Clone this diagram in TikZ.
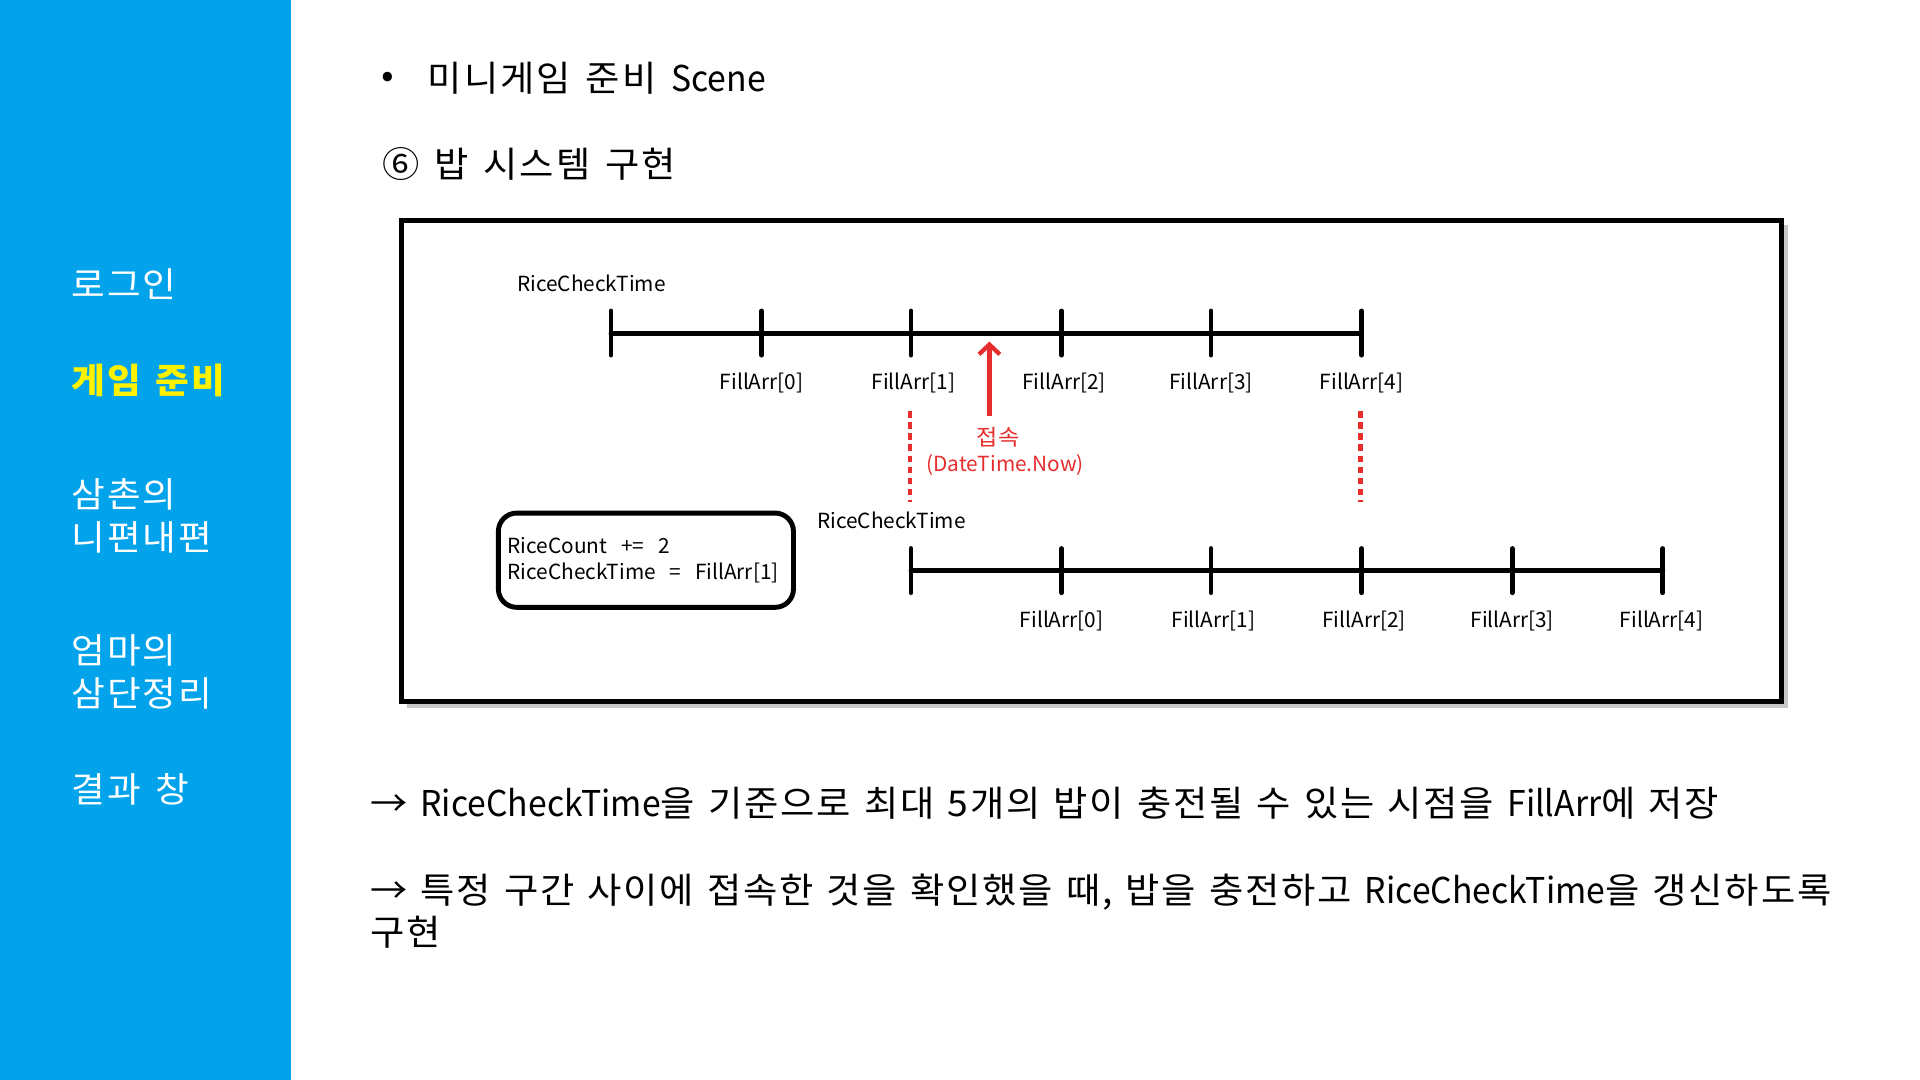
\documentclass[tikz,border=0pt]{standalone}
\usepackage{fontspec}
\setmainfont{Noto Sans CJK KR}
\newfontfamily\kr{Noto Sans CJK KR}[FakeStretch=1.05,LetterSpace=6,WordSpace=1.4]
\newfontfamily\krb{Noto Sans CJK KR}[FakeStretch=1.05,LetterSpace=5,WordSpace=1.3]
\newfontfamily\la{Noto Sans CJK KR}[FakeStretch=0.95]
\newcommand\lat[1]{{\la #1}}
\usetikzlibrary{arrows.meta}
\definecolor{side}{RGB}{2,163,235}
\definecolor{hl}{RGB}{255,242,0}
\definecolor{myred}{RGB}{232,45,45}
\tikzset{
  sidetxt/.style={anchor=west,text=white,font=\fontsize{28.5}{35}\selectfont\kr,align=left,inner sep=0pt},
  bigtxt/.style={anchor=west,font=\fontsize{29}{34}\selectfont\kr,align=left,inner sep=0pt},
  bottxt/.style={anchor=west,font=\fontsize{29}{34}\selectfont\krb,align=left,inner sep=0pt},
  lbl/.style={font=\fontsize{17}{22}\selectfont,inner sep=0pt},
  tl/.style={line width=4pt,line cap=round},
  redtxt/.style={lbl,text=myred},
  reddot/.style={myred,line width=3.5pt,dash pattern=on 5pt off 4pt},
}
\begin{document}
\begin{tikzpicture}[x=1pt,y=-1pt]
\useasboundingbox (0,0) rectangle (1568,882);
\fill[white] (0,0) rectangle (1568,882);
% sidebar
\fill[side] (0,0) rectangle (238,882);
\node[sidetxt] (s1) at (58,232) {로그인};
\node[sidetxt,text=hl,font=\fontsize{28.5}{35}\selectfont\kr\bfseries] (s2) at (58,311) {게임 준비};
\node[sidetxt] (s3) at (58,421) {삼촌의\\니편내편};
\node[sidetxt] (s4) at (58,549) {엄마의\\삼단정리};
\node[sidetxt] (s5) at (58,645) {결과 창};
% titles
\node[bigtxt] (bul) at (311,65) {•};
\node[bigtxt] (t1) at (349,64) {미니게임 준비 \lat{Scene}};
\node[bigtxt] (t2) at (312,134) {⑥ 밥 시스템 구현};
% frame
\fill[black!40,opacity=0.55] (332,184) rectangle (1460,578);
\draw[line width=4pt,fill=white] (328,180) rectangle (1455,573);
% top timeline
\foreach \i/\x in {0/499,1/622,2/744,3/867,4/989,5/1112}{
  \coordinate (a\i) at (\x,272);
}
\draw[tl] (a0) -- (a5);
\foreach \i in {0,...,5}{ \draw[tl] (a\i) ++(0,-18) -- ++(0,36); }
\node[lbl] (rct1) at (483,231) {RiceCheckTime};
\node[lbl] (fa0) at (622,313) {FillArr[0]};
\node[lbl] (fa1) at (746,313) {FillArr[1]};
\node[lbl] (fa2) at (869,313) {FillArr[2]};
\node[lbl] (fa3) at (989,313) {FillArr[3]};
\node[lbl] (fa4) at (1112,313) {FillArr[4]};
% red arrow and texts
\coordinate (ar0) at (808,340);
\coordinate (ar1) at (808,279);
\draw[myred,line width=3.5pt,-{Straight Barb[length=8pt,width=17pt,line width=3.5pt]}] (ar0) -- (ar1);
\node[redtxt,font=\fontsize{18}{22}\selectfont\kr] (con) at (815,357) {접속};
\node[redtxt] (now) at (821,380) {(DateTime.Now)};
\coordinate (d1a) at (743,336);
\coordinate (d1b) at (743,410);
\coordinate (d2a) at (1111,336);
\coordinate (d2b) at (1111,410);
\draw[reddot] (d1a) -- (d1b);
\draw[reddot] (d2a) -- (d2b);
% bottom timeline
\foreach \i/\x in {0/744,1/867,2/989,3/1112,4/1235,5/1358}{
  \coordinate (b\i) at (\x,466);
}
\draw[tl] (b0) -- (b5);
\foreach \i in {0,...,5}{ \draw[tl] (b\i) ++(0,-18) -- ++(0,36); }
\node[lbl] (rct2) at (728,425) {RiceCheckTime};
\node[lbl] (fb0) at (867,507) {FillArr[0]};
\node[lbl] (fb1) at (991,507) {FillArr[1]};
\node[lbl] (fb2) at (1114,507) {FillArr[2]};
\node[lbl] (fb3) at (1235,507) {FillArr[3]};
\node[lbl] (fb4) at (1357,507) {FillArr[4]};
% box
\node[draw,line width=4pt,rounded corners=15pt,minimum width=241pt,minimum height=77pt,
      font=\fontsize{17}{22}\selectfont,align=left,inner xsep=7pt,text width=226pt] (box) at (527.5,457.5)
  {RiceCount~~+=~~2\\RiceCheckTime~~=~~FillArr[1]};
% bottom text
\node[bottxt] (l1) at (302,656) {→ \lat{RiceCheckTime}을 기준으로 최대 5개의 밥이 충전될 수 있는 시점을 \lat{FillArr}에 저장};
\node[bottxt] (l2) at (302,744) {→ 특정 구간 사이에 접속한 것을 확인했을 때, 밥을 충전하고 \lat{RiceCheckTime}을 갱신하도록\\구현};
\end{tikzpicture}
\end{document}
